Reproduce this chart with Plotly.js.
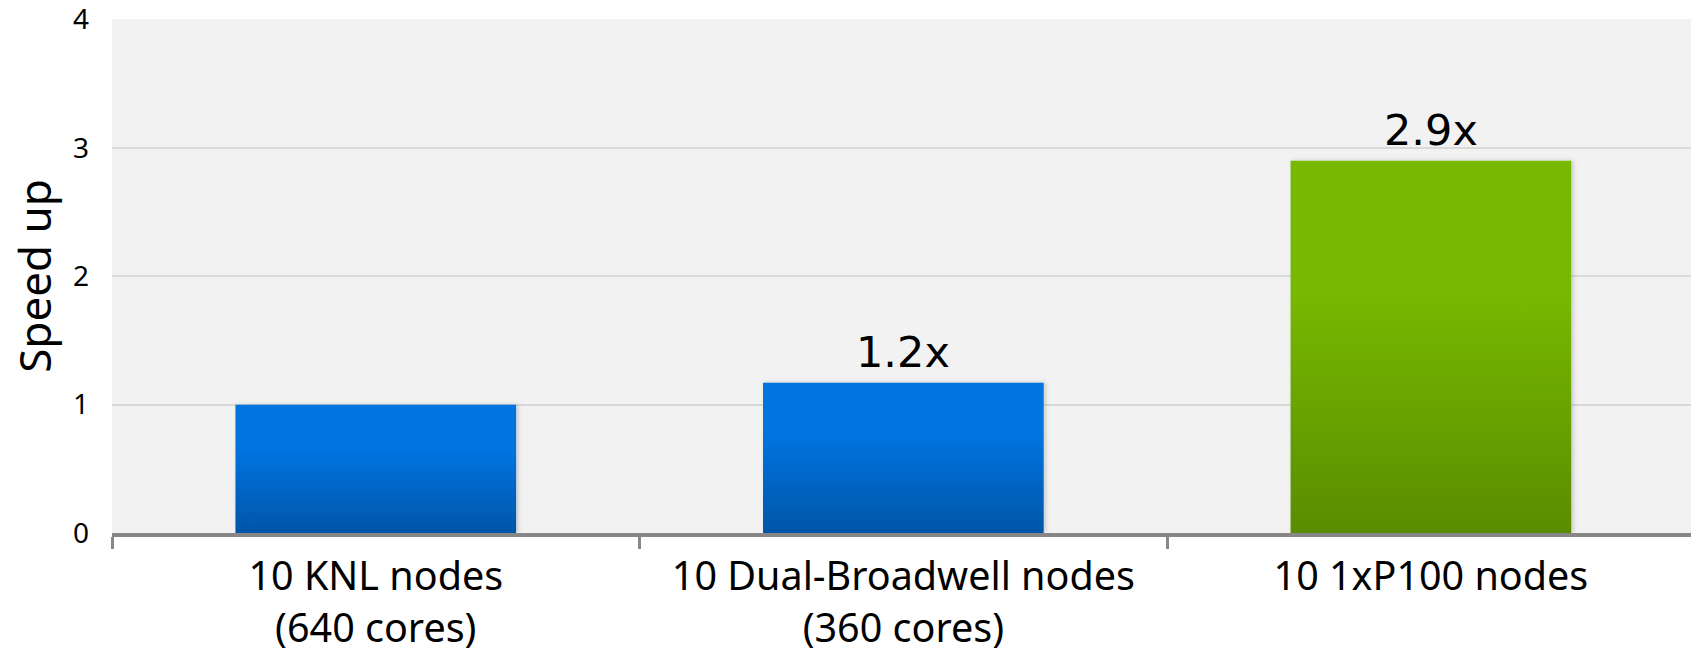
<!DOCTYPE html>
<html>
<head>
<meta charset="utf-8">
<script src="https://cdn.plot.ly/plotly-3.0.1.min.js"></script>
<style>
  html, body { margin: 0; padding: 0; background: #ffffff; }
  #chart { width: 1691px; height: 658px; }
</style>
</head>
<body>
<div id="chart"></div>
<script>
// ---- data ----
const categories = [
  '10 KNL nodes<br>(640 cores)',
  '10 Dual-Broadwell nodes<br>(360 cores)',
  '10 1xP100 nodes'
];
const speedup = [1.0, 1.17, 2.9];
const barLabels = ['', '1.2x', '2.9x'];
const yTickValues = [0, 1, 2, 3, 4];
const yTickLabels = ['0', '1', '2', '3', '4'];

// ---- styles ----
const barTopColors = ['#0074E0', '#0074E0', '#77B900'];
const barBottomColors = ['#0056A8', '#0056A8', '#5A8C00'];
const barMidColors = ['#0066C8', '#0066C8', '#6AA400'];
const FONT = '"Noto Sans", "Open Sans", "DejaVu Sans", sans-serif';
const LABEL_FONT = '"DejaVu Sans", "Noto Sans", sans-serif';

const trace = {
  type: 'bar',
  x: categories,
  y: speedup,
  marker: { color: barMidColors, line: { width: 0 } },
  hoverinfo: 'none',
  cliponaxis: false
};

const annotations = categories.map((c, i) => ({
  x: c,
  y: speedup[i],
  xref: 'x',
  yref: 'y',
  text: barLabels[i],
  showarrow: false,
  yanchor: 'bottom',
  yshift: 4,
  font: { family: LABEL_FONT, size: 43, color: '#000000' }
})).filter(a => a.text !== '');

const layout = {
  width: 1691,
  height: 658,
  margin: { l: 112, r: 0, t: 19, b: 125, pad: 0 },
  paper_bgcolor: '#ffffff',
  plot_bgcolor: '#F2F2F2',
  bargap: 0.468,
  showlegend: false,
  font: { family: FONT, color: '#000000' },
  xaxis: {
    type: 'category',
    range: [-0.5, 2.493],
    tickson: 'boundaries',
    ticks: 'outside',
    ticklen: 12,
    tickwidth: 3,
    tickcolor: '#878787',
    showline: true,
    linecolor: '#878787',
    linewidth: 4,
    showgrid: false,
    zeroline: false,
    tickfont: { family: FONT, size: 39.5, color: '#000000' },
    ticklabelstandoff: 6,
    fixedrange: true
  },
  yaxis: {
    range: [0, 4.004],
    tickmode: 'array',
    tickvals: yTickValues,
    ticktext: yTickLabels,
    ticks: '',
    showline: false,
    showgrid: true,
    gridcolor: '#D9D9D9',
    gridwidth: 2,
    zeroline: false,
    tickfont: { family: FONT, size: 28, color: '#000000' },
    ticklabelstandoff: 22,
    ticklabeloverflow: 'allow',
    title: { text: 'Speed up', font: { family: FONT, size: 44, color: '#000000' }, standoff: 7 },
    fixedrange: true
  },
  annotations: annotations
};

Plotly.newPlot('chart', [trace], layout, { staticPlot: true, displayModeBar: false }).then(function (gd) {
  const svg = gd.querySelector('svg.main-svg');
  const ns = 'http://www.w3.org/2000/svg';
  let defs = svg.querySelector('defs');
  if (!defs) { defs = document.createElementNS(ns, 'defs'); svg.insertBefore(defs, svg.firstChild); }
  // drop shadow
  const filt = document.createElementNS(ns, 'filter');
  filt.setAttribute('id', 'barShadow');
  filt.setAttribute('x', '-10%'); filt.setAttribute('y', '-10%');
  filt.setAttribute('width', '130%'); filt.setAttribute('height', '130%');
  const ds = document.createElementNS(ns, 'feDropShadow');
  ds.setAttribute('dx', '2'); ds.setAttribute('dy', '0');
  ds.setAttribute('stdDeviation', '2');
  ds.setAttribute('flood-color', '#000'); ds.setAttribute('flood-opacity', '0.18');
  filt.appendChild(ds);
  defs.appendChild(filt);

  const paths = gd.querySelectorAll('.barlayer .point path');
  paths.forEach(function (p, i) {
    const g = document.createElementNS(ns, 'linearGradient');
    const id = 'barGrad' + i;
    g.setAttribute('id', id);
    g.setAttribute('x1', '0'); g.setAttribute('y1', '0');
    g.setAttribute('x2', '0'); g.setAttribute('y2', '1');
    [[0, barTopColors[i]], [0.35, barTopColors[i]], [1, barBottomColors[i]]].forEach(function (s) {
      const st = document.createElementNS(ns, 'stop');
      st.setAttribute('offset', String(s[0]));
      st.setAttribute('stop-color', s[1]);
      g.appendChild(st);
    });
    defs.appendChild(g);
    p.style.fill = 'url(#' + id + ')';
    p.setAttribute('filter', 'url(#barShadow)');
  });
});
</script>
</body>
</html>
